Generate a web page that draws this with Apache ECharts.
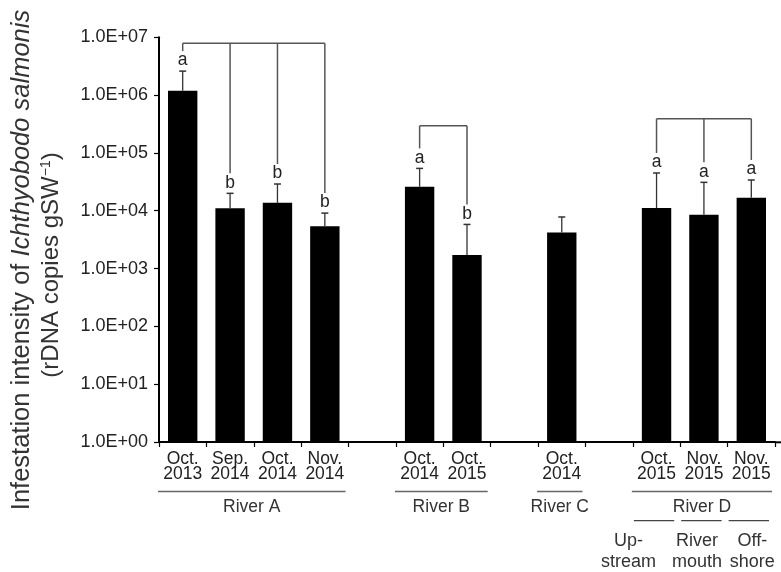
<!DOCTYPE html>
<html><head><meta charset="utf-8">
<script src="https://cdn.jsdelivr.net/npm/echarts@6/dist/echarts.min.js"></script>
<style>html,body{margin:0;padding:0;background:#fff}#c{width:781px;height:572px}</style>
</head><body><div id="c"></div>
<script>
// ---- data ----
const categories = ['Oct.\n2013','Sep.\n2014','Oct.\n2014','Nov.\n2014','',
                    'Oct.\n2014','Oct.\n2015','',
                    'Oct.\n2014','',
                    'Oct.\n2015','Nov.\n2015','Nov.\n2015'];
const means    = [1.19e6, 1.10e4, 1.37e4, 5.4e3, null, 2.6e4, 1.71e3, null, 4.2e3, null, 1.11e4, 8.5e3, 1.68e4];
const upperErr = [2.6e6,  2.0e4,  2.9e4,  9.1e3, null, 5.4e4, 5.8e3,  null, 7.8e3, null, 4.5e4,  3.1e4, 3.4e4];
const letters  = ['a','b','b','b','', 'a','b','', '', '', 'a','a','a'];
const yTickLabels = ['1.0E+00','1.0E+01','1.0E+02','1.0E+03','1.0E+04','1.0E+05','1.0E+06','1.0E+07'];
const bracketMembers = [[0,1,2,3],[5,6],[10,11,12]];
const bracketLevels  = [7.9e6, 2.95e5, 3.9e5];
const groupNames  = ['River A','River B','River C','River D'];
const groupRanges = [[0,3],[5,6],[8,8],[10,12]];
const subNames = ['Up-\nstream','River\nmouth','Off-\nshore'];
const subIdx   = [10,11,12];

const FONT = "'Liberation Sans', Arial, Helvetica, sans-serif";
const chart = echarts.init(document.getElementById('c'), null, {renderer:'canvas'});

const errData = [];
means.forEach((m,i)=>{ if(m!=null) errData.push([i, m, upperErr[i]]); });
const brData = bracketMembers.map((mem,k)=>[mem[0], bracketLevels[k], k]);

const option = {
  animation:false,
  backgroundColor:'#fff',
  grid:{left:159, right:6, top:37.3, bottom:130, containLabel:false},
  xAxis:{
    type:'category', data:categories, boundaryGap:true,
    axisLine:{lineStyle:{color:'#000', width:2}},
    axisTick:{show:true, interval:0, length:5, lineStyle:{color:'#000', width:1.2}},
    axisLabel:{interval:0, color:'#222', fontSize:17.5, lineHeight:15, fontFamily:FONT, margin:10}
  },
  yAxis:{
    type:'log', logBase:10, min:1, max:1e7,
    axisLine:{show:true, lineStyle:{color:'#000', width:2}},
    axisTick:{show:true, length:5, lineStyle:{color:'#000', width:1.2}},
    splitLine:{show:false},
    minorTick:{show:false},
    axisLabel:{color:'#222', fontSize:18, fontFamily:FONT, margin:11,
      formatter:v=>{const e=Math.round(Math.log10(v)); return yTickLabels[e]||'';}}
  },
  series:[
    {type:'bar', data:means, barWidth:'62%', itemStyle:{color:'#000'}, barGap:'0%'},
    {type:'custom', data:errData, encode:{x:0,y:1}, clip:false, z:5,
      renderItem:(params, api)=>{
        const i=api.value(0), m=api.value(1), u=api.value(2);
        const p0=api.coord([i,m]), p1=api.coord([i,u]);
        const ch=[
          {type:'line', shape:{x1:p0[0],y1:p0[1],x2:p1[0],y2:p1[1]}, style:{stroke:'#333', lineWidth:1.3}},
          {type:'line', shape:{x1:p1[0]-3.5,y1:p1[1],x2:p1[0]+3.5,y2:p1[1]}, style:{stroke:'#333', lineWidth:1.5}}
        ];
        const L=letters[i];
        if(L){
          ch.push({type:'text', x:p1[0], y:p1[1]-1.5,
            style:{text:L, align:'center', verticalAlign:'bottom', font:'17.5px '+FONT, fill:'#222'}});
        }
        return {type:'group', children:ch};
      }
    },
    {type:'custom', data:brData, encode:{x:0,y:1}, clip:false, z:4,
      renderItem:(params, api)=>{
        const k=api.value(2), lvl=api.value(1);
        const mem=bracketMembers[k];
        const yTop=api.coord([mem[0], lvl])[1];
        const ch=[];
        const xs=mem.map(m=>api.coord([m,lvl])[0]);
        ch.push({type:'line', shape:{x1:xs[0],y1:yTop,x2:xs[xs.length-1],y2:yTop}, style:{stroke:'#555', lineWidth:1.5}});
        mem.forEach((m,j)=>{
          const yEnd=api.coord([m, upperErr[m]])[1]-20;
          ch.push({type:'line', shape:{x1:xs[j],y1:yTop,x2:xs[j],y2:yEnd}, style:{stroke:'#555', lineWidth:1.5}});
        });
        return {type:'group', children:ch};
      }
    }
  ]
};
chart.setOption(option);

// ---- annotations under axis & title ----
function cx(i){ return chart.convertToPixel({gridIndex:0},[i,1])[0]; }
const band = cx(1)-cx(0);
const subLabelShift = [-28, -7, 1];
const g=[];
groupNames.forEach((n,k)=>{
  const a=cx(groupRanges[k][0])-band/2-1, b=cx(groupRanges[k][1])+band/2-3;
  g.push({type:'line', shape:{x1:a,y1:491.5,x2:b,y2:491.5}, style:{stroke:'#666', lineWidth:1.5}, silent:true});
  g.push({type:'text', x:(a+b)/2, y:507.5, style:{text:n, align:'center', verticalAlign:'middle', font:'17.5px '+FONT, fill:'#333'}});
});
// extend x axis line to right edge as in reference
g.push({type:'line', shape:{x1:cx(12)+band/2, y1:442.3, x2:781, y2:442.3}, style:{stroke:'#000', lineWidth:2}, silent:true});
subNames.forEach((n,k)=>{
  const i=subIdx[k];
  const a=cx(i)-band/2+1, b=cx(i)+band/2-6;
  g.push({type:'line', shape:{x1:a,y1:520.7,x2:b,y2:520.7}, style:{stroke:'#444', lineWidth:1.3}, silent:true});
  g.push({type:'text', x:cx(i)+subLabelShift[k], y:552, style:{text:n, align:'center', verticalAlign:'middle', font:'18px '+FONT, lineHeight:21, fill:'#333'}});
});
g.push({type:'text', x:22, y:260, rotation:Math.PI/2,
  style:{text:'Infestation intensity of {i|Ichthyobodo salmonis}', align:'center', verticalAlign:'middle',
    font:'25.5px '+FONT, fill:'#333', rich:{i:{fontStyle:'italic', fontSize:25.5, fontFamily:FONT, fill:'#333'}}}});
g.push({type:'text', x:51.5, y:265, rotation:Math.PI/2,
  style:{text:'(rDNA copies gSW{sup|−1})', align:'center', verticalAlign:'middle',
    font:'24px '+FONT, fill:'#333', rich:{sup:{fontSize:14, fontFamily:FONT, fill:'#333', verticalAlign:'top', lineHeight:24}}}});
chart.setOption({graphic:g});
</script>
</body></html>
